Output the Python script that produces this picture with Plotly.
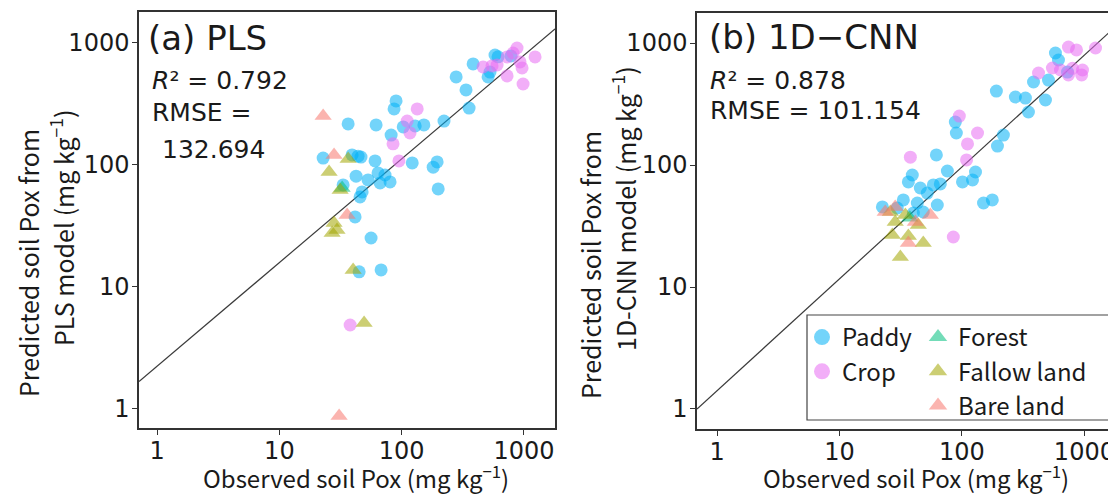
import numpy as np
import plotly.graph_objects as go

# the page body has an 8px margin, so the figure is drawn 8px in from the window corner
OFF = 8
W, H = 1116 - OFF, 497 - OFF

# ---- data (observed, predicted) ----
a_paddy_obs = [36.5, 61.8, 90, 86.7, 103, 82, 129, 152, 222, 279, 336, 356, 384, 509, 528, 580, 614, 784,
               22.8, 39.3, 44, 46.5, 60.6, 42.4, 53.1, 64.1, 73.1, 80.4, 66.6, 122, 195, 181, 199, 47.5,
               33.2, 41.6, 56.2, 44.9, 67.9, 45.7]
a_paddy_pred = [217, 213, 335, 288, 205, 176, 209, 213, 229, 527, 412, 293, 673, 527, 578, 797, 770, 782,
                114, 121, 118, 116, 108, 81, 75.4, 86, 82.8, 72.6, 71.2, 104, 106, 96, 63.6, 60.1,
                68.6, 37.5, 25.2, 13.3, 13.8, 54.7]
a_crop_obs = [134, 111, 117, 85, 95, 463, 603, 728, 878, 815, 965, 1233, 728, 984, 929, 37.9, 548]
a_crop_pred = [288, 229, 183, 149, 108, 636, 660, 768, 910, 828, 624, 768, 537, 461, 699, 4.88, 648]
a_forest_obs = [32.6]
a_forest_pred = [64.8]
a_fallow_obs = [36.5, 25.5, 31.4, 28, 27, 29.6, 40.1, 49.3]
a_fallow_pred = [112, 87.6, 62.4, 33.5, 27.7, 29.3, 13.8, 5.07]
a_bare_obs = [22.8, 28, 35.8, 30.8]
a_bare_pred = [252, 121, 38.9, 0.877]

b_paddy_obs = [580, 614, 384, 509, 191, 273, 330, 481, 349, 218, 195, 88.3, 90, 61.8, 76, 129, 122, 101,
               150, 177, 39.3, 36.5, 45.7, 58.4, 66.6, 52.1, 33.2, 22.4, 29.6, 43.2, 62.9, 48.3, 40.1, 728]
b_paddy_pred = [828, 726, 479, 497, 404, 361, 354, 341, 272, 176, 143, 225, 183, 121, 89.3, 87.6, 75.4, 72.6,
                48.8, 51.7, 82.8, 72.6, 64.8, 68.6, 70, 58.9, 51.7, 45.3, 44.4, 48.8, 47, 41.2, 40.4, 578]
b_crop_obs = [95.2, 134, 111, 109, 37.9, 85, 422, 548, 638, 741, 862, 965, 950, 741, 1233, 800]
b_crop_pred = [252, 183, 149, 110, 116, 25.7, 568, 624, 601, 927, 877, 601, 547, 547, 910, 620]
b_forest_obs = [37.5]
b_forest_pred = [37.0]
b_fallow_obs = [27, 36.5, 48.3, 31.4, 28.5, 34.5, 26, 44]
b_fallow_pred = [26.7, 26.2, 22.9, 17.6, 34.1, 38.9, 41.2, 32.2]
b_bare_obs = [23.6, 28.5, 55.2, 36.5, 41.6]
b_bare_pred = [41.2, 45.3, 38.9, 22.9, 34.1]

# fitted lines in log10 space: log(pred) = intercept + slope * log(obs)
fit_a = (0.35, 0.85)
fit_b = (0.15, 0.917)

tick_vals = [1, 10, 100, 1000]
tick_text = ["1", "10", "100", "1000"]

classes = ["Paddy", "Crop", "Forest", "Fallow land", "Bare land"]
colors = {"Paddy": "#00B0F6", "Crop": "#E76BF3", "Forest": "#00BF7D",
          "Fallow land": "#A3A500", "Bare land": "#F8766D"}
symbols = {"Paddy": "circle", "Crop": "circle", "Forest": "triangle-up",
           "Fallow land": "triangle-up", "Bare land": "triangle-up"}

panel_a = {"Paddy": (a_paddy_obs, a_paddy_pred), "Crop": (a_crop_obs, a_crop_pred),
           "Forest": (a_forest_obs, a_forest_pred), "Fallow land": (a_fallow_obs, a_fallow_pred),
           "Bare land": (a_bare_obs, a_bare_pred)}
panel_b = {"Paddy": (b_paddy_obs, b_paddy_pred), "Crop": (b_crop_obs, b_crop_pred),
           "Forest": (b_forest_obs, b_forest_pred), "Fallow land": (b_fallow_obs, b_fallow_pred),
           "Bare land": (b_bare_obs, b_bare_pred)}


# screen pixel -> paper coordinate
def px(x):
    return (x - OFF) / W


def py(y):
    return 1 - (y - OFF) / H


TICKFONT = "DejaVu Sans"
JPFONT = "Noto Sans CJK JP"

xr_a = [-0.148, 3.254]
yr_a = [-0.156, 3.254]
xr_b = [-0.164, 3.25]
yr_b = [-0.164, 3.246]

fig = go.Figure()

for panel, xa, ya, xr, fit in [(panel_a, "x", "y", xr_a, fit_a), (panel_b, "x2", "y2", xr_b, fit_b)]:
    # fitted line
    lx = np.array(xr)
    fig.add_trace(go.Scatter(x=10 ** lx, y=10 ** (fit[0] + fit[1] * lx), mode="lines",
                             line=dict(color="#3a3a3a", width=1.2), xaxis=xa, yaxis=ya,
                             showlegend=False, hoverinfo="skip"))
    for c in classes:
        obs, pred = panel[c]
        fig.add_trace(go.Scatter(x=obs, y=pred, mode="markers", name=c, xaxis=xa, yaxis=ya,
                                 marker=dict(symbol=symbols[c], color=colors[c],
                                             size=13 if symbols[c] == "circle" else 15,
                                             opacity=0.55, line=dict(width=0)),
                                 showlegend=False))

# legend entries (bigger symbols)
for c in classes:
    fig.add_trace(go.Scatter(x=[None], y=[None], mode="markers", name=c, xaxis="x2", yaxis="y2",
                             legend="legend" if c in ("Paddy", "Crop") else "legend2",
                             marker=dict(symbol=symbols[c], color=colors[c], size=16, opacity=0.55,
                                         line=dict(width=0))))

axis = dict(type="log", tickvals=tick_vals, ticktext=tick_text, ticks="outside", ticklen=5,
            tickcolor="#333", showline=True, linecolor="#333", linewidth=1.5, mirror=True,
            showgrid=False, zeroline=False, ticklabeloverflow="allow", ticklabelstandoff=-2,
            tickfont=dict(family=TICKFONT, size=24, color="#1a1a1a"))

fig.update_layout(
    width=W, height=H, margin=dict(l=0, r=0, t=0, b=0),
    paper_bgcolor="white", plot_bgcolor="white",
    xaxis=dict(axis, domain=[px(139), px(555)], range=xr_a, anchor="y", ticklabelstandoff=-5),
    yaxis=dict(axis, domain=[py(428), py(12)], range=yr_a, anchor="x"),
    xaxis2=dict(axis, domain=[px(697), min(1.0, px(1115))], range=xr_b, anchor="y2", ticklabelstandoff=-5),
    yaxis2=dict(axis, domain=[py(429), py(13)], range=yr_b, anchor="x2"),
    legend=dict(x=px(802), y=py(315), xanchor="left", yanchor="top", bgcolor="rgba(0,0,0,0)",
                font=dict(family=JPFONT, size=24, color="#1a1a1a"), itemsizing="trace",
                tracegroupgap=0),
    legend2=dict(x=px(918), y=py(315), xanchor="left", yanchor="top", bgcolor="rgba(0,0,0,0)",
                 font=dict(family=JPFONT, size=24, color="#1a1a1a"), itemsizing="trace",
                 tracegroupgap=0),
    shapes=[dict(type="rect", xref="paper", yref="paper", x0=px(807), x1=px(1111), y0=py(420), y1=py(315),
                 line=dict(color="#444", width=1.2), fillcolor="rgba(255,255,255,0)", layer="below")],
)


def txt(x, y, s, size, family=TICKFONT, anchor="left", angle=0):
    fig.add_annotation(x=px(x), y=py(y), xref="paper", yref="paper", text=s, showarrow=False,
                       xanchor=anchor, yanchor="middle", textangle=angle,
                       font=dict(family=family, size=size, color="#1a1a1a"))


# panel texts
txt(146, 38, "(a) PLS", 34)
txt(150, 80, "<i>R</i>² = 0.792", 25)
txt(150, 113, "RMSE =", 25)
txt(160, 150, "132.694", 25)
txt(707, 37, "(b) 1D\u2212CNN", 34)
txt(708, 80, "<i>R</i>² = 0.878", 25)
txt(708, 111, "RMSE = 101.154", 25)

# axis titles
txt(356, 477, "Observed soil Pox (mg kg<sup>\u22121</sup>)", 24, JPFONT, "center")
txt(916, 477, "Observed soil Pox (mg kg<sup>\u22121</sup>)", 24, JPFONT, "center")
txt(28, 263, "Predicted soil Pox from", 25, JPFONT, "center", -90)
txt(62, 228, "PLS model (mg kg<sup>\u22121</sup>)", 25, JPFONT, "center", -90)
txt(590, 265, "Predicted soil Pox from", 25, JPFONT, "center", -90)
txt(624, 209, "1D-CNN model (mg kg<sup>\u22121</sup>)", 25, JPFONT, "center", -90)

fig.write_html("out.html")
